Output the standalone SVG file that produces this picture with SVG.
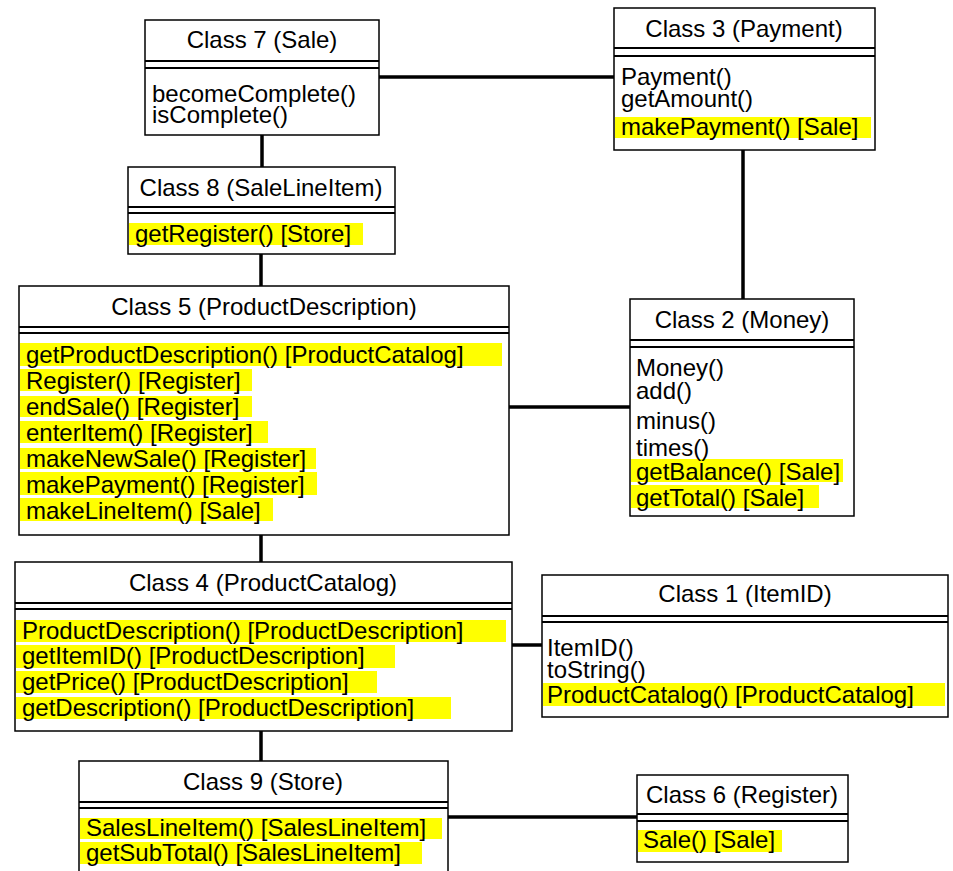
<svg xmlns="http://www.w3.org/2000/svg" width="953" height="871" viewBox="0 0 953 871">
  <style>
    .box { fill: #fff; stroke: #000; stroke-width: 1.5; }
    .sep { stroke: #000; stroke-width: 2.2; }
    .hl { fill: #ffff00; }
    .title { font-family: "Liberation Sans", Arial, sans-serif; font-size: 24px; fill: #000; text-anchor: middle; }
    .op { font-family: "Liberation Sans", Arial, sans-serif; font-size: 24px; fill: #000; }
    .link { stroke: #000; stroke-width: 3.5; fill: none; }
  </style>
  <rect width="953" height="871" fill="#fff"/>

  <!-- associations between classes -->
  <g id="connectors">
    <line class="link" x1="379" y1="77" x2="614" y2="77"/>
    <line class="link" x1="262" y1="135" x2="262" y2="167"/>
    <line class="link" x1="261" y1="254" x2="261" y2="286"/>
    <line class="link" x1="743" y1="150" x2="743" y2="299"/>
    <line class="link" x1="509" y1="407" x2="630" y2="407"/>
    <line class="link" x1="261" y1="535" x2="261" y2="562"/>
    <line class="link" x1="512" y1="645" x2="542" y2="645"/>
    <line class="link" x1="261" y1="731" x2="261" y2="761"/>
    <line class="link" x1="448" y1="817" x2="637" y2="817"/>
  </g>

  <g id="class7">
    <rect class="box" x="145" y="20" width="234" height="115"/>
    <line class="sep" x1="145" y1="61" x2="379" y2="61"/>
    <line class="sep" x1="145" y1="68" x2="379" y2="68"/>
    <text class="title" x="262" y="48">Class 7 (Sale)</text>
    <text class="op" x="152" y="102">becomeComplete()</text>
    <text class="op" x="152" y="123">isComplete()</text>
  </g>

  <g id="class3">
    <rect class="box" x="614" y="8" width="261" height="142"/>
    <line class="sep" x1="614" y1="48" x2="875" y2="48"/>
    <line class="sep" x1="614" y1="56" x2="875" y2="56"/>
    <text class="title" x="744" y="37">Class 3 (Payment)</text>
    <rect class="hl" x="615" y="117" width="256" height="21"/>
    <text class="op" x="621" y="85">Payment()</text>
    <text class="op" x="621" y="107">getAmount()</text>
    <text class="op" x="621" y="135">makePayment() [Sale]</text>
  </g>

  <g id="class8">
    <rect class="box" x="128" y="167" width="267" height="87"/>
    <line class="sep" x1="128" y1="207" x2="395" y2="207"/>
    <line class="sep" x1="128" y1="213" x2="395" y2="213"/>
    <text class="title" x="261" y="196">Class 8 (SaleLineItem)</text>
    <rect class="hl" x="129" y="223" width="234" height="22"/>
    <text class="op" x="135" y="242">getRegister() [Store]</text>
  </g>

  <g id="class5">
    <rect class="box" x="19" y="286" width="490" height="249"/>
    <line class="sep" x1="19" y1="327" x2="509" y2="327"/>
    <line class="sep" x1="19" y1="333" x2="509" y2="333"/>
    <text class="title" x="264" y="315">Class 5 (ProductDescription)</text>
    <rect class="hl" x="20" y="343" width="482" height="23"/>
    <rect class="hl" x="20" y="369" width="232" height="22"/>
    <rect class="hl" x="20" y="396" width="232" height="21"/>
    <rect class="hl" x="20" y="421" width="248" height="22"/>
    <rect class="hl" x="20" y="448" width="296" height="21"/>
    <rect class="hl" x="20" y="472" width="297" height="23"/>
    <rect class="hl" x="20" y="498" width="253" height="23"/>
    <text class="op" x="26" y="363">getProductDescription() [ProductCatalog]</text>
    <text class="op" x="26" y="389">Register() [Register]</text>
    <text class="op" x="26" y="415">endSale() [Register]</text>
    <text class="op" x="26" y="441">enterItem() [Register]</text>
    <text class="op" x="26" y="467">makeNewSale() [Register]</text>
    <text class="op" x="26" y="493">makePayment() [Register]</text>
    <text class="op" x="26" y="519">makeLineItem() [Sale]</text>
  </g>

  <g id="class2">
    <rect class="box" x="630" y="299" width="224" height="217"/>
    <line class="sep" x1="630" y1="340" x2="854" y2="340"/>
    <line class="sep" x1="630" y1="347" x2="854" y2="347"/>
    <text class="title" x="742" y="328">Class 2 (Money)</text>
    <rect class="hl" x="631" y="459" width="212" height="23"/>
    <rect class="hl" x="631" y="485" width="188" height="23"/>
    <text class="op" x="636" y="376">Money()</text>
    <text class="op" x="636" y="399">add()</text>
    <text class="op" x="636" y="429">minus()</text>
    <text class="op" x="636" y="456">times()</text>
    <text class="op" x="636" y="480">getBalance() [Sale]</text>
    <text class="op" x="636" y="506">getTotal() [Sale]</text>
  </g>

  <g id="class4">
    <rect class="box" x="15" y="562" width="497" height="169"/>
    <line class="sep" x1="15" y1="603" x2="512" y2="603"/>
    <line class="sep" x1="15" y1="609" x2="512" y2="609"/>
    <text class="title" x="263" y="591">Class 4 (ProductCatalog)</text>
    <rect class="hl" x="16" y="620" width="490" height="22"/>
    <rect class="hl" x="16" y="645" width="379" height="23"/>
    <rect class="hl" x="16" y="671" width="361" height="22"/>
    <rect class="hl" x="16" y="697" width="435" height="22"/>
    <text class="op" x="22" y="639">ProductDescription() [ProductDescription]</text>
    <text class="op" x="22" y="664">getItemID() [ProductDescription]</text>
    <text class="op" x="22" y="690">getPrice() [ProductDescription]</text>
    <text class="op" x="22" y="716">getDescription() [ProductDescription]</text>
  </g>

  <g id="class1">
    <rect class="box" x="542" y="575" width="406" height="142"/>
    <line class="sep" x1="542" y1="616" x2="948" y2="616"/>
    <line class="sep" x1="542" y1="622" x2="948" y2="622"/>
    <text class="title" x="745" y="602">Class 1 (ItemID)</text>
    <rect class="hl" x="543" y="683" width="402" height="23"/>
    <text class="op" x="547" y="656">ItemID()</text>
    <text class="op" x="547" y="678">toString()</text>
    <text class="op" x="547" y="703">ProductCatalog() [ProductCatalog]</text>
  </g>

  <g id="class9">
    <rect class="box" x="79" y="761" width="369" height="120"/>
    <line class="sep" x1="79" y1="802" x2="448" y2="802"/>
    <line class="sep" x1="79" y1="808" x2="448" y2="808"/>
    <text class="title" x="263" y="790">Class 9 (Store)</text>
    <rect class="hl" x="80" y="818" width="362" height="21"/>
    <rect class="hl" x="80" y="842" width="342" height="22"/>
    <text class="op" x="86" y="836">SalesLineItem() [SalesLineItem]</text>
    <text class="op" x="86" y="861">getSubTotal() [SalesLineItem]</text>
  </g>

  <g id="class6">
    <rect class="box" x="637" y="775" width="211" height="87"/>
    <line class="sep" x1="637" y1="814" x2="848" y2="814"/>
    <line class="sep" x1="637" y1="821" x2="848" y2="821"/>
    <text class="title" x="742" y="803">Class 6 (Register)</text>
    <rect class="hl" x="638" y="830" width="144" height="22"/>
    <text class="op" x="643" y="848">Sale() [Sale]</text>
  </g>
</svg>
